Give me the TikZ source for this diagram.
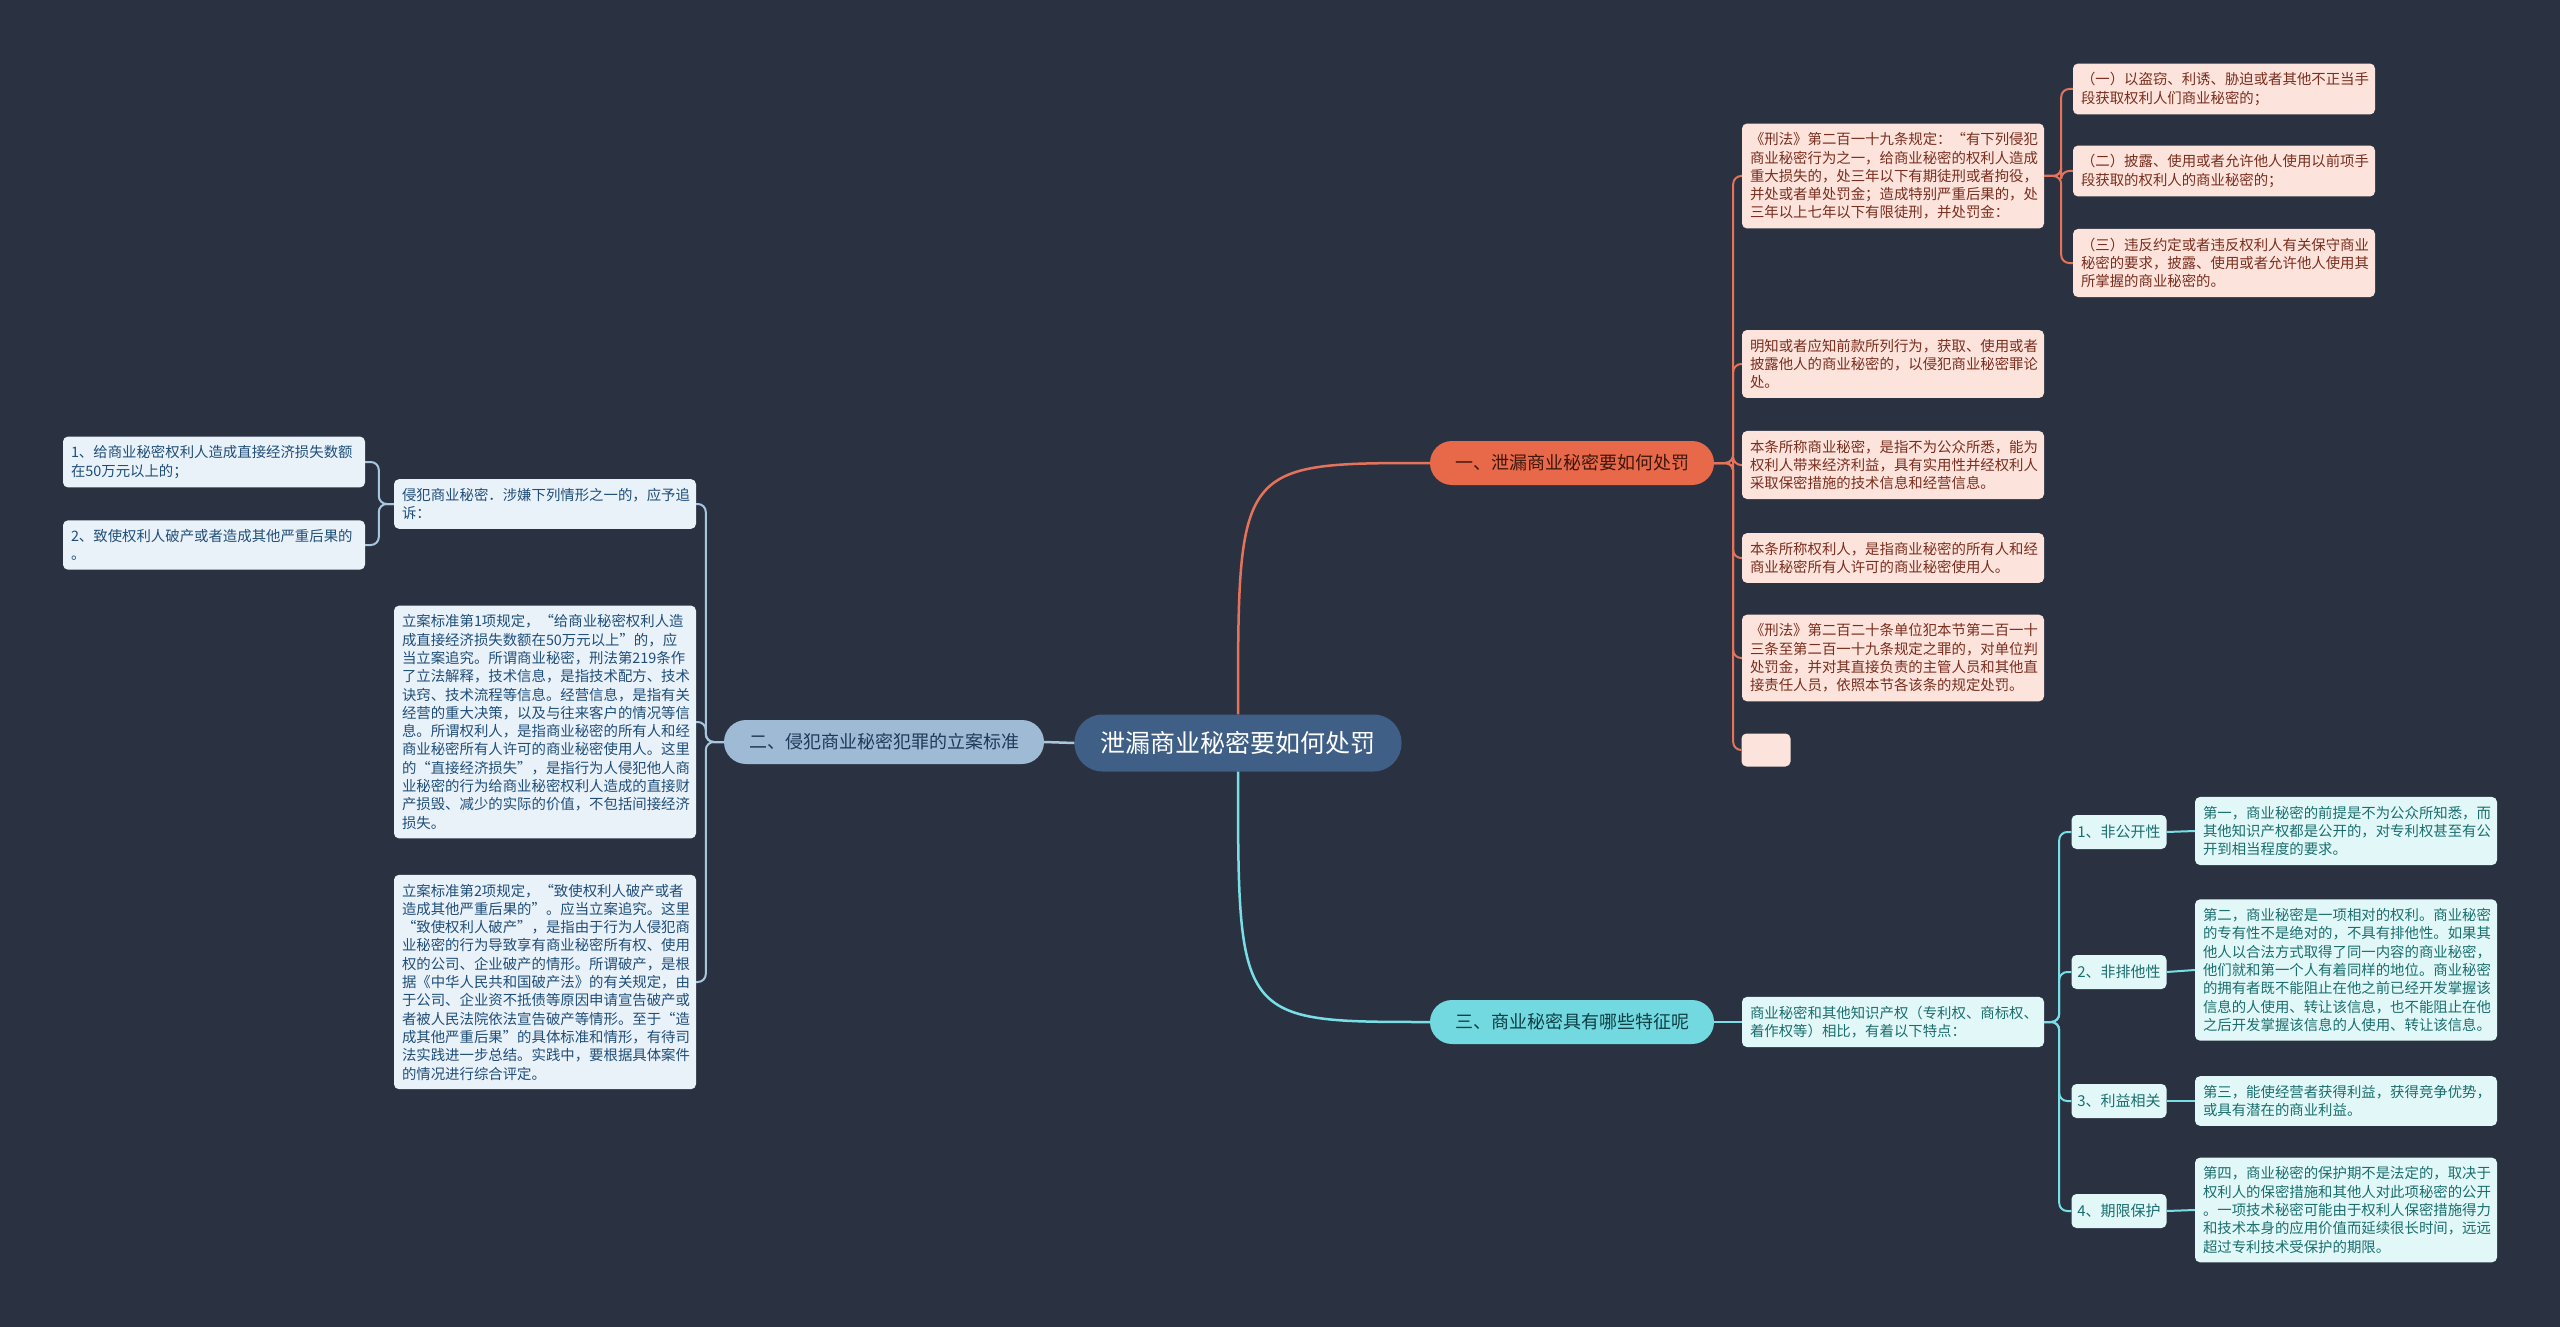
\documentclass[tikz,border=0pt]{standalone}
\usepackage{fontspec}
\setmainfont{Noto Sans CJK SC}
\usetikzlibrary{positioning}

\definecolor{bgdark}{HTML}{2A3242}
\definecolor{rootfill}{HTML}{3F5F86}
\definecolor{redfill}{HTML}{E8694A}
\definecolor{redtext}{HTML}{3E160C}
\definecolor{redleaf}{HTML}{FCE4DD}
\definecolor{redleaftext}{HTML}{7A2E1E}
\definecolor{redline}{HTML}{E5735A}
\definecolor{bluefill}{HTML}{9EBAD4}
\definecolor{bluetext}{HTML}{1E3A5A}
\definecolor{blueleaf}{HTML}{EAF2F9}
\definecolor{blueleaftext}{HTML}{1F4E7A}
\definecolor{blueline}{HTML}{A9C6E0}
\definecolor{cyanfill}{HTML}{72D9E0}
\definecolor{cyantext}{HTML}{0F3F45}
\definecolor{cyanleaf}{HTML}{E2F8F8}
\definecolor{cyanleaftext}{HTML}{1B6E6E}
\definecolor{cyanline}{HTML}{79DFE6}

\begin{document}
\begin{tikzpicture}[
	x=1pt, y=-1pt,
	root/.style={
		rectangle,
		rounded corners=28pt,
		fill=rootfill,
		text=white,
		minimum height=57pt,
		inner xsep=26pt,
		font=\fontsize{25}{30}\selectfont
	},
	branch/.style={
		rectangle,
		rounded corners=22pt,
		minimum height=44pt,
		inner xsep=25pt,
		font=\fontsize{18}{22}\selectfont
	},
	leaf/.style={
		rectangle,
		rounded corners=5pt,
		text width=286pt,
		inner xsep=8pt,
		inner ysep=9pt,
		align=left,
		font=\fontsize{14.4}{18.3}\selectfont
	},
	tag/.style={
		rectangle,
		rounded corners=5pt,
		fill=cyanleaf,
		text=cyanleaftext,
		minimum width=95pt,
		minimum height=34pt,
		font=\fontsize{15}{18}\selectfont
	},
	redleafbox/.style={leaf, fill=redleaf, text=redleaftext},
	blueleafbox/.style={leaf, fill=blueleaf, text=blueleaftext},
	cyanleafbox/.style={leaf, fill=cyanleaf, text=cyanleaftext},
	link/.style={line width=2pt, rounded corners=8pt},
	mainlink/.style={line width=2.5pt}
]
\fill[bgdark] (0,0) rectangle (2560,1327);

\node[root] (topic) at (1238,743) {泄漏商业秘密要如何处罚};

\node[branch, fill=redfill, text=redtext] (pen) at (1572,463) {一、泄漏商业秘密要如何处罚};
\node[branch, fill=bluefill, text=bluetext] (std) at (884,742) {二、侵犯商业秘密犯罪的立案标准};
\node[branch, fill=cyanfill, text=cyantext] (feat) at (1572,1022) {三、商业秘密具有哪些特征呢};

\node[redleafbox] (law) at (1893,176) {
	《刑法》第二百一十九条规定：“有下列侵犯\\
	商业秘密行为之一，给商业秘密的权利人造成\\
	重大损失的，处三年以下有期徒刑或者拘役，\\
	并处或者单处罚金；造成特别严重后果的，处\\
	三年以上七年以下有限徒刑，并处罚金：
};
\node[redleafbox] (lawa) at (2224,89) {
	（一）以盗窃、利诱、胁迫或者其他不正当手\\
	段获取权利人们商业秘密的；
};
\node[redleafbox] (lawb) at (2224,171) {
	（二）披露、使用或者允许他人使用以前项手\\
	段获取的权利人的商业秘密的；
};
\node[redleafbox] (lawc) at (2224,263) {
	（三）违反约定或者违反权利人有关保守商业\\
	秘密的要求，披露、使用或者允许他人使用其\\
	所掌握的商业秘密的。
};
\node[redleafbox] (know) at (1893,364) {
	明知或者应知前款所列行为，获取、使用或者\\
	披露他人的商业秘密的，以侵犯商业秘密罪论\\
	处。
};
\node[redleafbox] (secret) at (1893,465) {
	本条所称商业秘密，是指不为公众所悉，能为\\
	权利人带来经济利益，具有实用性并经权利人\\
	采取保密措施的技术信息和经营信息。
};
\node[redleafbox] (owner) at (1893,558) {
	本条所称权利人，是指商业秘密的所有人和经\\
	商业秘密所有人许可的商业秘密使用人。
};
\node[redleafbox] (unit) at (1893,658) {
	《刑法》第二百二十条单位犯本节第二百一十\\
	三条至第二百一十九条规定之罪的，对单位判\\
	处罚金，并对其直接负责的主管人员和其他直\\
	接责任人员，依照本节各该条的规定处罚。
};
\node[redleafbox, text width=33pt, minimum height=33pt, inner ysep=0pt] (blank) at (1766,750) {};

\node[blueleafbox] (sue) at (545,504) {
	侵犯商业秘密．涉嫌下列情形之一的，应予追\\
	诉：
};
\node[blueleafbox] (sue1) at (214,462) {
	1、给商业秘密权利人造成直接经济损失数额\\
	在50万元以上的；
};
\node[blueleafbox] (sue2) at (214,545) {
	2、致使权利人破产或者造成其他严重后果的\\
	。
};
\node[blueleafbox] (item1) at (545,722) {
	立案标准第1项规定，“给商业秘密权利人造\\
	成直接经济损失数额在50万元以上”的，应\\
	当立案追究。所谓商业秘密，刑法第219条作\\
	了立法解释，技术信息，是指技术配方、技术\\
	诀窍、技术流程等信息。经营信息，是指有关\\
	经营的重大决策，以及与往来客户的情况等信\\
	息。所谓权利人，是指商业秘密的所有人和经\\
	商业秘密所有人许可的商业秘密使用人。这里\\
	的“直接经济损失”，是指行为人侵犯他人商\\
	业秘密的行为给商业秘密权利人造成的直接财\\
	产损毁、减少的实际的价值，不包括间接经济\\
	损失。
};
\node[blueleafbox] (item2) at (545,982) {
	立案标准第2项规定，“致使权利人破产或者\\
	造成其他严重后果的”。应当立案追究。这里\\
	“致使权利人破产”，是指由于行为人侵犯商\\
	业秘密的行为导致享有商业秘密所有权、使用\\
	权的公司、企业破产的情形。所谓破产，是根\\
	据《中华人民共和国破产法》的有关规定，由\\
	于公司、企业资不抵债等原因申请宣告破产或\\
	者被人民法院依法宣告破产等情形。至于“造\\
	成其他严重后果”的具体标准和情形，有待司\\
	法实践进一步总结。实践中，要根据具体案件\\
	的情况进行综合评定。
};

\node[cyanleafbox] (compare) at (1893,1022) {
	商业秘密和其他知识产权（专利权、商标权、\\
	着作权等）相比，有着以下特点：
};
\node[tag] (t1) at (2119,832) {1、非公开性};
\node[tag] (t2) at (2119,972) {2、非排他性};
\node[tag] (t3) at (2119,1101) {3、利益相关};
\node[tag] (t4) at (2119,1211) {4、期限保护};
\node[cyanleafbox] (d1) at (2346,831) {
	第一，商业秘密的前提是不为公众所知悉，而\\
	其他知识产权都是公开的，对专利权甚至有公\\
	开到相当程度的要求。
};
\node[cyanleafbox] (d2) at (2346,970) {
	第二，商业秘密是一项相对的权利。商业秘密\\
	的专有性不是绝对的，不具有排他性。如果其\\
	他人以合法方式取得了同一内容的商业秘密，\\
	他们就和第一个人有着同样的地位。商业秘密\\
	的拥有者既不能阻止在他之前已经开发掌握该\\
	信息的人使用、转让该信息，也不能阻止在他\\
	之后开发掌握该信息的人使用、转让该信息。
};
\node[cyanleafbox] (d3) at (2346,1101) {
	第三，能使经营者获得利益，获得竞争优势，\\
	或具有潜在的商业利益。
};
\node[cyanleafbox] (d4) at (2346,1210) {
	第四，商业秘密的保护期不是法定的，取决于\\
	权利人的保密措施和其他人对此项秘密的公开\\
	。一项技术秘密可能由于权利人保密措施得力\\
	和技术本身的应用价值而延续很长时间，远远\\
	超过专利技术受保护的期限。
};

\draw[mainlink, redline] (topic.north) .. controls (topic.north |- pen.west) .. (pen.west);
\draw[mainlink, cyanline] (topic.south) .. controls (topic.south |- feat.west) .. (feat.west);
\draw[mainlink, blueline] (topic.west) -- (std.east);

\foreach \n in {law,know,secret,owner,unit,blank}
	\draw[link, redline] (pen.east) -- ++(19,0) |- (\n.west);
\foreach \n in {lawa,lawb,lawc}
	\draw[link, redline] (law.east) -- ++(17,0) |- (\n.west);

\foreach \n in {sue,item1,item2}
	\draw[link, blueline] (std.west) -- ++(-18,0) |- (\n.east);
\foreach \n in {sue1,sue2}
	\draw[link, blueline] (sue.west) -- ++(-15,0) |- (\n.east);

\draw[link, cyanline] (feat.east) -- (compare.west);
\foreach \n in {t1,t2,t3,t4}
	\draw[link, cyanline] (compare.east) -- ++(15,0) |- (\n.west);
\draw[link, cyanline] (t1.east) -- (d1.west);
\draw[link, cyanline] (t2.east) -- (d2.west);
\draw[link, cyanline] (t3.east) -- (d3.west);
\draw[link, cyanline] (t4.east) -- (d4.west);
\end{tikzpicture}
\end{document}
